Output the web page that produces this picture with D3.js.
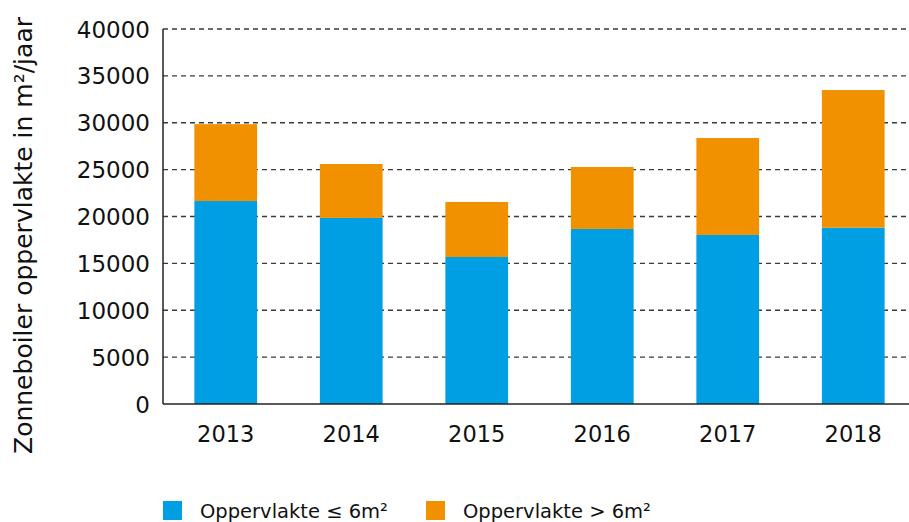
<!DOCTYPE html>
<html>
<head>
<meta charset="utf-8">
<script src="https://cdn.jsdelivr.net/npm/d3@7"></script>
<style>
  html, body { margin: 0; padding: 0; background: #fff; }
  svg { display: block; font-family: "DejaVu Sans", sans-serif; }
</style>
</head>
<body>
<svg id="chart" width="909" height="522"></svg>
<script>
const years = ["2013", "2014", "2015", "2016", "2017", "2018"];
const small = [21650, 19850, 15680, 18670, 18030, 18810];
const large = [8200, 5750, 5870, 6610, 10340, 14680];
const seriesNames = ["Oppervlakte \u2264 6m\u00b2", "Oppervlakte > 6m\u00b2"];
const colors = ["#009fe3", "#f29100"];
const yTicks = [0, 5000, 10000, 15000, 20000, 25000, 30000, 35000, 40000];
const yLabel = "Zonneboiler oppervlakte in m\u00b2/jaar";

const svg = d3.select("#chart");
const mLeft = 163, mRight = 916, mTop = 29, mBottom = 404, gridEnd = 909;

const x = d3.scaleBand().domain(years).range([mLeft, mRight]).paddingInner(0.5).paddingOuter(0.25);
const y = d3.scaleLinear().domain([0, 40000]).range([mBottom, mTop]);

// gridlines
svg.append("g").selectAll("line").data(yTicks.filter(t => t > 0)).join("line")
  .attr("x1", mLeft).attr("x2", gridEnd)
  .attr("y1", d => y(d)).attr("y2", d => y(d))
  .attr("stroke", "#3a3a3a").attr("stroke-width", 1.3)
  .attr("stroke-dasharray", "5,4");

// stacked bars
const table = years.map((yr, i) => ({ year: yr, s0: small[i], s1: large[i] }));
const stack = d3.stack().keys(["s0", "s1"])(table);
svg.append("g").selectAll("g").data(stack).join("g")
  .attr("fill", (d, i) => colors[i])
  .selectAll("rect").data(d => d).join("rect")
  .attr("x", d => x(d.data.year))
  .attr("width", x.bandwidth())
  .attr("y", d => y(d[1]))
  .attr("height", d => y(d[0]) - y(d[1]));

// axes lines
svg.append("line").attr("x1", mLeft).attr("x2", mLeft).attr("y1", mTop).attr("y2", mBottom)
  .attr("stroke", "#222").attr("stroke-width", 1.5);
svg.append("line").attr("x1", mLeft).attr("x2", gridEnd).attr("y1", mBottom).attr("y2", mBottom)
  .attr("stroke", "#222").attr("stroke-width", 1.5);

// y tick labels
svg.append("g").selectAll("text").data(yTicks).join("text")
  .attr("x", 150).attr("y", d => y(d)).attr("dy", "0.37em")
  .attr("text-anchor", "end").attr("font-size", 23).attr("fill", "#111")
  .text(d => d);

// x tick labels
svg.append("g").selectAll("text").data(years).join("text")
  .attr("x", d => x(d) + x.bandwidth() / 2).attr("y", 442)
  .attr("text-anchor", "middle").attr("font-size", 22.5).attr("fill", "#111")
  .text(d => d);

// y label
svg.append("text")
  .attr("transform", "translate(32,235.5) rotate(-90)")
  .attr("text-anchor", "middle").attr("font-size", 25).attr("fill", "#111")
  .attr("textLength", 437).attr("lengthAdjust", "spacingAndGlyphs")
  .text(yLabel);

// legend
const legX = [163, 426];
const leg = svg.append("g").selectAll("g").data(seriesNames).join("g")
  .attr("transform", (d, i) => `translate(${legX[i]},501)`);
leg.append("rect").attr("width", 19).attr("height", 19).attr("fill", (d, i) => colors[i]);
leg.append("text").attr("x", 37).attr("y", 17).attr("font-size", 19.5).attr("fill", "#111").text(d => d);
</script>
</body>
</html>
